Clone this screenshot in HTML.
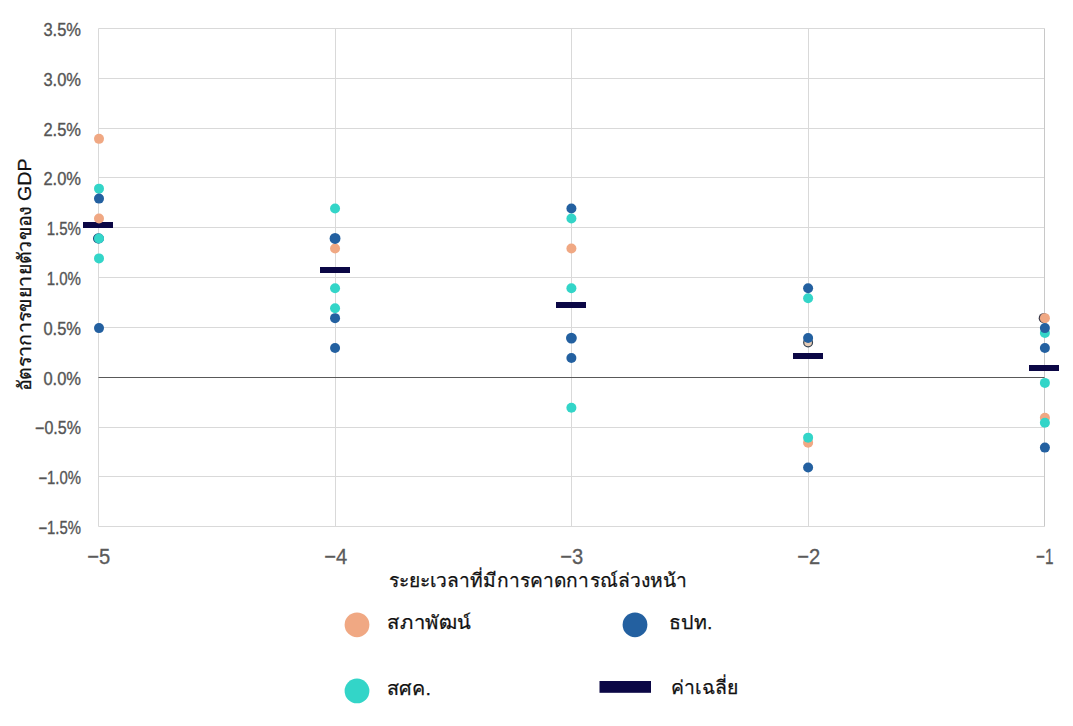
<!DOCTYPE html>
<html><head><meta charset="utf-8">
<style>
html,body{margin:0;padding:0;background:#fff;width:1073px;height:726px;overflow:hidden}
svg{position:absolute;left:0;top:0;display:block}
text{font-family:"Liberation Sans",sans-serif}
.yt{font-size:17.5px;fill:#555;stroke:#555;stroke-width:0.35px}
.xt{font-size:22px;fill:#5a5a5a;stroke:#5a5a5a;stroke-width:0.3px}
.tt{font-size:19px;fill:#111;stroke:#111;stroke-width:0.25px}
.lg{font-size:19px;fill:#111;stroke:#111;stroke-width:0.25px}
</style></head><body>
<svg width="1073" height="726" viewBox="0 0 1073 726">
<line x1="98.5" y1="28.50" x2="1044.5" y2="28.50" stroke="#D9D9D9" stroke-width="1"/>
<line x1="98.5" y1="78.50" x2="1044.5" y2="78.50" stroke="#D9D9D9" stroke-width="1"/>
<line x1="98.5" y1="128.50" x2="1044.5" y2="128.50" stroke="#D9D9D9" stroke-width="1"/>
<line x1="98.5" y1="177.50" x2="1044.5" y2="177.50" stroke="#D9D9D9" stroke-width="1"/>
<line x1="98.5" y1="227.50" x2="1044.5" y2="227.50" stroke="#D9D9D9" stroke-width="1"/>
<line x1="98.5" y1="277.50" x2="1044.5" y2="277.50" stroke="#D9D9D9" stroke-width="1"/>
<line x1="98.5" y1="327.50" x2="1044.5" y2="327.50" stroke="#D9D9D9" stroke-width="1"/>
<line x1="98.5" y1="427.50" x2="1044.5" y2="427.50" stroke="#D9D9D9" stroke-width="1"/>
<line x1="98.5" y1="476.50" x2="1044.5" y2="476.50" stroke="#D9D9D9" stroke-width="1"/>
<line x1="98.5" y1="526.50" x2="1044.5" y2="526.50" stroke="#D9D9D9" stroke-width="1"/>
<line x1="98.5" y1="28.5" x2="98.5" y2="526.5" stroke="#D9D9D9" stroke-width="1"/>
<line x1="335.5" y1="28.5" x2="335.5" y2="526.5" stroke="#D9D9D9" stroke-width="1"/>
<line x1="571.5" y1="28.5" x2="571.5" y2="526.5" stroke="#D9D9D9" stroke-width="1"/>
<line x1="808.5" y1="28.5" x2="808.5" y2="526.5" stroke="#D9D9D9" stroke-width="1"/>
<line x1="1044.5" y1="28.5" x2="1044.5" y2="526.5" stroke="#C8C8C8" stroke-width="1"/>
<line x1="98.5" y1="377.5" x2="1044.5" y2="377.5" stroke="#595959" stroke-width="1"/>
<text x="81" y="35.9" text-anchor="end" class="yt" textLength="37.6" lengthAdjust="spacingAndGlyphs">3.5%</text>
<text x="81" y="85.7" text-anchor="end" class="yt" textLength="37.6" lengthAdjust="spacingAndGlyphs">3.0%</text>
<text x="81" y="135.5" text-anchor="end" class="yt" textLength="37.6" lengthAdjust="spacingAndGlyphs">2.5%</text>
<text x="81" y="185.3" text-anchor="end" class="yt" textLength="37.6" lengthAdjust="spacingAndGlyphs">2.0%</text>
<text x="81" y="235.1" text-anchor="end" class="yt" textLength="34.300000000000004" lengthAdjust="spacingAndGlyphs">1.5%</text>
<text x="81" y="284.9" text-anchor="end" class="yt" textLength="34.300000000000004" lengthAdjust="spacingAndGlyphs">1.0%</text>
<text x="81" y="334.7" text-anchor="end" class="yt" textLength="37.6" lengthAdjust="spacingAndGlyphs">0.5%</text>
<text x="81" y="384.5" text-anchor="end" class="yt" textLength="37.6" lengthAdjust="spacingAndGlyphs">0.0%</text>
<text x="81" y="434.3" text-anchor="end" class="yt" textLength="45.900000000000006" lengthAdjust="spacingAndGlyphs">−0.5%</text>
<text x="81" y="484.1" text-anchor="end" class="yt" textLength="42.6" lengthAdjust="spacingAndGlyphs">−1.0%</text>
<text x="81" y="533.9" text-anchor="end" class="yt" textLength="42.6" lengthAdjust="spacingAndGlyphs">−1.5%</text>
<text x="98.7" y="564" text-anchor="middle" class="xt" textLength="23" lengthAdjust="spacingAndGlyphs">−5</text>
<text x="335.7" y="564" text-anchor="middle" class="xt" textLength="23" lengthAdjust="spacingAndGlyphs">−4</text>
<text x="571.7" y="564" text-anchor="middle" class="xt" textLength="23" lengthAdjust="spacingAndGlyphs">−3</text>
<text x="808.7" y="564" text-anchor="middle" class="xt" textLength="23" lengthAdjust="spacingAndGlyphs">−2</text>
<text x="1044.7" y="564" text-anchor="middle" class="xt" textLength="17.5" lengthAdjust="spacingAndGlyphs">−1</text>
<circle cx="1043.7" cy="318.14" r="5.0" fill="#3A3A4A"/>
<circle cx="1044.9" cy="318.14" r="5.0" fill="#F0A883"/>
<circle cx="808.1" cy="342.44" r="4.4" fill="#E6CCB6" stroke="#33404F" stroke-width="1.2"/>
<circle cx="98.0" cy="238.46" r="5.0" fill="#1F4F7A"/>
<circle cx="99.00" cy="138.86" r="5.0" fill="#F0A883"/>
<circle cx="99.00" cy="188.66" r="5.0" fill="#33D5C8"/>
<circle cx="99.00" cy="198.62" r="5.0" fill="#2360A0"/>
<circle cx="99.00" cy="238.46" r="5.0" fill="#2360A0"/>
<circle cx="99.00" cy="238.46" r="5.0" fill="#33D5C8"/>
<circle cx="99.00" cy="258.38" r="5.0" fill="#33D5C8"/>
<circle cx="99.00" cy="328.10" r="5.0" fill="#2360A0"/>
<circle cx="335.05" cy="208.58" r="5.0" fill="#33D5C8"/>
<circle cx="335.05" cy="248.42" r="5.0" fill="#F0A883"/>
<circle cx="335.05" cy="288.26" r="5.0" fill="#33D5C8"/>
<circle cx="335.05" cy="308.18" r="5.0" fill="#33D5C8"/>
<circle cx="335.05" cy="318.14" r="5.0" fill="#2360A0"/>
<circle cx="335.05" cy="348.02" r="5.0" fill="#2360A0"/>
<circle cx="571.40" cy="208.58" r="5.0" fill="#2360A0"/>
<circle cx="571.40" cy="218.54" r="5.0" fill="#33D5C8"/>
<circle cx="571.40" cy="248.42" r="5.0" fill="#F0A883"/>
<circle cx="571.40" cy="288.26" r="5.0" fill="#33D5C8"/>
<circle cx="571.40" cy="357.98" r="5.0" fill="#2360A0"/>
<circle cx="571.40" cy="407.78" r="5.0" fill="#33D5C8"/>
<circle cx="808.10" cy="298.22" r="5.0" fill="#33D5C8"/>
<circle cx="808.10" cy="288.26" r="5.0" fill="#2360A0"/>
<circle cx="808.10" cy="442.64" r="5.0" fill="#F0A883"/>
<circle cx="808.10" cy="437.66" r="5.0" fill="#33D5C8"/>
<circle cx="808.10" cy="467.54" r="5.0" fill="#2360A0"/>
<circle cx="1044.90" cy="333.08" r="5.0" fill="#33D5C8"/>
<circle cx="1044.90" cy="328.10" r="5.0" fill="#2360A0"/>
<circle cx="1044.90" cy="348.02" r="5.0" fill="#2360A0"/>
<circle cx="1044.90" cy="382.88" r="5.0" fill="#33D5C8"/>
<circle cx="1044.90" cy="417.74" r="5.0" fill="#F0A883"/>
<circle cx="1044.90" cy="422.72" r="5.0" fill="#33D5C8"/>
<circle cx="1044.90" cy="447.62" r="5.0" fill="#2360A0"/>
<circle cx="808.1" cy="338.06" r="5.0" fill="#2360A0"/>
<circle cx="335.05" cy="238.46" r="5.45" fill="#2360A0"/>
<circle cx="571.4" cy="338.06" r="5.4" fill="#2360A0"/>
<rect x="83" y="222" width="30" height="6" fill="#0B0745"/>
<rect x="320" y="267" width="30" height="6" fill="#0B0745"/>
<rect x="556" y="302" width="30" height="6" fill="#0B0745"/>
<rect x="793" y="353" width="30" height="6" fill="#0B0745"/>
<rect x="1029" y="365" width="30" height="6" fill="#0B0745"/>
<circle cx="99.0" cy="218.54" r="5.0" fill="#F0A883"/>
<text x="388.5" y="586.5" class="tt" textLength="299" lengthAdjust="spacingAndGlyphs">ระยะเวลาที่มีการคาดการณ์ล่วงหน้า</text>
<text transform="translate(31.3,391) rotate(-90)" class="tt" textLength="232.5" lengthAdjust="spacingAndGlyphs">อัตราการขยายตัวของ GDP</text>
<circle cx="357" cy="624.8" r="12.4" fill="#F0A883"/>
<text x="387" y="629" class="lg" textLength="84" lengthAdjust="spacingAndGlyphs">สภาพัฒน์</text>
<circle cx="635" cy="624.8" r="12.4" fill="#2360A0"/>
<text x="669" y="628.8" class="lg" textLength="43.5" lengthAdjust="spacingAndGlyphs">ธปท.</text>
<circle cx="357" cy="690.9" r="12.4" fill="#33D5C8"/>
<text x="387" y="695" class="lg" textLength="44" lengthAdjust="spacingAndGlyphs">สศค.</text>
<rect x="599.5" y="681" width="51.5" height="11.8" fill="#0B0745"/>
<text x="671" y="694.3" class="lg" textLength="67.2" lengthAdjust="spacingAndGlyphs">ค่าเฉลี่ย</text>
</svg>
</body></html>
